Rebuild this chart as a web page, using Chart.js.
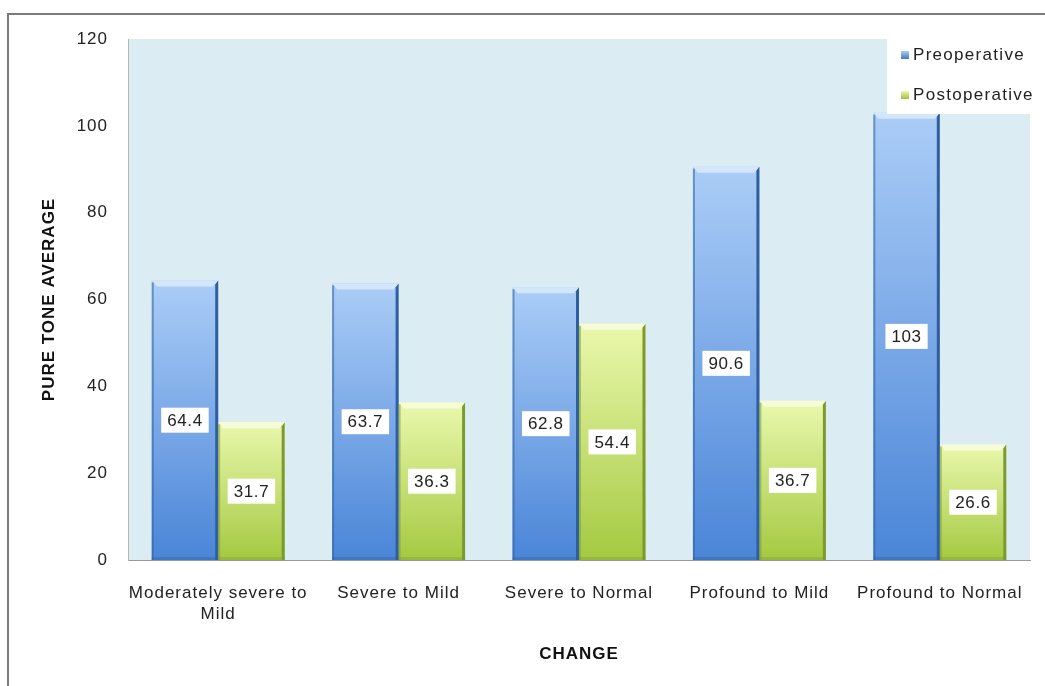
<!DOCTYPE html>
<html>
<head>
<meta charset="utf-8">
<script src="https://cdn.jsdelivr.net/npm/chart.js@4/dist/chart.umd.min.js"></script>
<style>
  html, body { margin: 0; padding: 0; background: #fff; }
  #wrap { width: 1045px; height: 686px; position: relative; }
</style>
</head>
<body>
<div id="wrap"><canvas id="c" width="1045" height="686"></canvas></div>
<script>
// Pure tone average by hearing-level change
const categories = [["Moderately severe to", "Mild"], "Severe to Mild", "Severe to Normal", "Profound to Mild", "Profound to Normal"];
const preoperative = [64.4, 63.7, 62.8, 90.6, 103];
const postoperative = [31.7, 36.3, 54.4, 36.7, 26.6];
const seriesNames = ["Preoperative", "Postoperative"];
const yTickValues = [0, 20, 40, 60, 80, 100, 120];
const xTitle = "CHANGE";
const yTitle = "PURE TONE AVERAGE";

const FONT = "'Liberation Sans', Arial, sans-serif";

const palette = {
  pre:  { top: '#abcdf7', bottom: '#4a85d7', dark: '#2f5f9f', light: '#d3e6fb', marker: '#3f78c8' },
  post: { top: '#eaf8ad', bottom: '#a4c941', dark: '#7d9a2e', light: '#f6fcd8', marker: '#9bc23c' }
};

function barGradient(pal) {
  return function (ctx) {
    const chart = ctx.chart;
    const area = chart.chartArea;
    if (!area || ctx.raw === undefined) return pal.bottom;
    const y = chart.scales.y;
    const top = y.getPixelForValue(ctx.raw);
    const base = y.getPixelForValue(0);
    const g = chart.ctx.createLinearGradient(0, top, 0, base);
    g.addColorStop(0, pal.top);
    g.addColorStop(1, pal.bottom);
    return g;
  };
}

// Outer frame, plot background, slightly spaced lettering
const framePlugin = {
  id: 'frame',
  beforeDraw(chart) {
    const { ctx, chartArea: a } = chart;
    ctx.save();
    ctx.fillStyle = '#ffffff';
    ctx.fillRect(0, 0, chart.width, chart.height);
    ctx.strokeStyle = '#7a7a7a';
    ctx.lineWidth = 2;
    ctx.beginPath();
    ctx.moveTo(8, chart.height + 2);
    ctx.lineTo(8, 14);
    ctx.lineTo(chart.width + 2, 14);
    ctx.stroke();
    ctx.fillStyle = '#dbedf2';
    ctx.fillRect(a.left, a.top, a.right - a.left, a.bottom - a.top);
    ctx.restore();
    ctx.letterSpacing = '1px';
  }
};

// Bevel edges and value boxes on each bar
const barDecor = {
  id: 'barDecor',
  afterDatasetsDraw(chart) {
    const ctx = chart.ctx;
    const pals = [palette.pre, palette.post];
    chart.data.datasets.forEach((ds, di) => {
      const meta = chart.getDatasetMeta(di);
      const pal = pals[di];
      meta.data.forEach((bar, i) => {
        const l = bar.x - bar.width / 2, r = bar.x + bar.width / 2;
        const t = bar.y, b = bar.base;
        ctx.save();
        // top bevel
        ctx.fillStyle = pal.light;
        ctx.beginPath();
        ctx.moveTo(l, t); ctx.lineTo(r, t); ctx.lineTo(r - 5, t + 6); ctx.lineTo(l + 5, t + 6);
        ctx.closePath(); ctx.fill();
        // right shadow
        ctx.fillStyle = pal.dark;
        ctx.beginPath();
        ctx.moveTo(r, t); ctx.lineTo(r, b); ctx.lineTo(r - 3, b); ctx.lineTo(r - 3, t + 4);
        ctx.closePath(); ctx.fill();
        // left edge
        ctx.globalAlpha = 0.55;
        ctx.fillRect(l, t + 2, 2, b - t - 2);
        ctx.globalAlpha = 0.35;
        ctx.fillRect(l, b - 3, r - l, 3);
        ctx.restore();

        // value box
        const v = ds.data[i];
        const txt = String(v);
        ctx.save();
        ctx.font = '17px ' + FONT;
        ctx.letterSpacing = '0.6px';
        const tw = ctx.measureText(txt).width;
        const cy = chart.scales.y.getPixelForValue(v / 2);
        const bw = tw + 12, bh = 25;
        ctx.fillStyle = '#ffffff';
        ctx.fillRect(bar.x - bw / 2, cy - bh / 2, bw, bh);
        ctx.fillStyle = '#222';
        ctx.textAlign = 'center';
        ctx.textBaseline = 'middle';
        ctx.fillText(txt, bar.x, cy + 1);
        ctx.restore();
      });
    });
  },
  afterDraw(chart) {
    // legend box in the upper right of the plot
    const { ctx, chartArea: a } = chart;
    const pals = [palette.pre, palette.post];
    ctx.save();
    ctx.fillStyle = '#ffffff';
    ctx.fillRect(887, a.top, a.right - 887, 75);
    ctx.font = '17px ' + FONT;
    ctx.letterSpacing = '1.3px';
    ctx.textBaseline = 'middle';
    ctx.textAlign = 'left';
    const rows = [55, 95];
    seriesNames.forEach((name, k) => {
      const g = ctx.createLinearGradient(0, rows[k] - 4, 0, rows[k] + 4);
      g.addColorStop(0, pals[k].top);
      g.addColorStop(1, pals[k].marker);
      ctx.fillStyle = g;
      ctx.fillRect(901, rows[k] - 4, 8, 8);
      ctx.fillStyle = '#222';
      ctx.fillText(name, 913, rows[k]);
    });
    ctx.restore();
  }
};

new Chart(document.getElementById('c'), {
  type: 'bar',
  data: {
    labels: categories,
    datasets: [
      { label: seriesNames[0], data: preoperative, backgroundColor: barGradient(palette.pre) },
      { label: seriesNames[1], data: postoperative, backgroundColor: barGradient(palette.post) }
    ]
  },
  options: {
    responsive: false,
    animation: false,
    devicePixelRatio: 1,
    layout: { padding: { top: 39, right: 15, left: 0, bottom: 0 } },
    datasets: { bar: { categoryPercentage: 0.737, barPercentage: 1.0, borderWidth: 0 } },
    plugins: { legend: { display: false }, tooltip: { enabled: false } },
    scales: {
      x: {
        grid: { display: false, drawTicks: false },
        border: { display: true, color: '#9a9a9a', width: 1 },
        ticks: { font: { family: FONT, size: 17, lineHeight: 1.28 }, color: '#222', padding: 22, maxRotation: 0, autoSkip: false },
        title: { display: true, text: xTitle, color: '#111', font: { family: FONT, size: 17, weight: 'bold' }, padding: { top: 0, bottom: 21 } },
        afterFit(s) { s.height = 126; }
      },
      y: {
        min: 0, max: 120,
        afterBuildTicks(s) { s.ticks = yTickValues.map(v => ({ value: v })); },
        grid: { display: false, drawTicks: false },
        border: { display: true, color: '#b5b5b5', width: 1 },
        ticks: { font: { family: FONT, size: 17 }, color: '#222', padding: 20 },
        title: { display: true, text: yTitle, color: '#111', font: { family: FONT, size: 17, weight: 'bold' }, padding: { top: 39, bottom: 0 } },
        afterFit(s) { s.width = 128; }
      }
    }
  },
  plugins: [framePlugin, barDecor]
});
</script>
</body>
</html>
